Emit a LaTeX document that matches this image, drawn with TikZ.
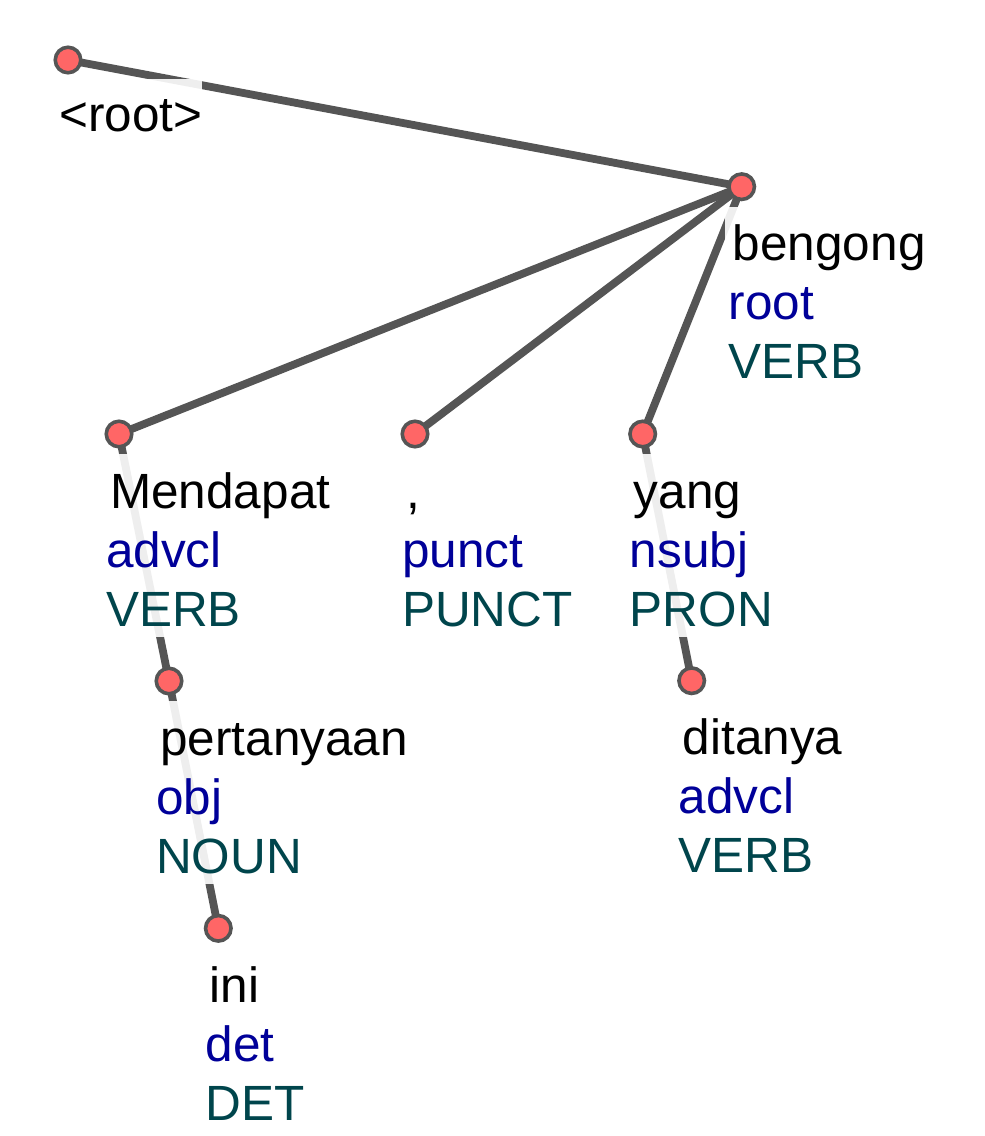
\documentclass[tikz,border=0pt]{standalone}
\usepackage{fontspec}
\setmainfont{Liberation Sans}
\definecolor{edgegray}{HTML}{555555}
\definecolor{nodered}{HTML}{FF6666}
\definecolor{relcol}{HTML}{000099}
\definecolor{poscol}{HTML}{00454C}
\pgfdeclarelayer{bg}
\pgfsetlayers{bg,main}
\tikzset{
  lbl/.style={anchor=north west, inner sep=0pt, align=left, fill=white,
    fill opacity=0.9, text opacity=1, font=\fontsize{49.5}{59}\selectfont},
  tok/.style={circle, draw=edgegray, line width=3.6pt, fill=nodered,
    minimum size=25.5pt, inner sep=0pt},
  depedge/.style={draw=edgegray, line width=7.8pt},
}
\newcommand\deptok[6]{%
  \node[lbl] (#1-l) at (#2-17,#3+20)
    {\hspace*{8pt}\rule{0pt}{54pt}#4\\
     \hspace*{4pt}\textcolor{relcol}{#5}\\
     \hspace*{4pt}\textcolor{poscol}{#6}\rule[-11pt]{0pt}{11pt}};
  \node[tok] (#1) at (#2,#3) {};}
\begin{document}
\begin{tikzpicture}[x=1pt,y=-1pt]
\useasboundingbox (0,0) rectangle (985,1136);
% root label and node
\node[lbl] (root-l) at (68-17,60+19)
  {\hspace*{8pt}\rule{0pt}{52pt}<root>\rule[-12pt]{0pt}{12pt}};
\node[tok] (root) at (68,60) {};
\deptok{beng}{741.7}{186.7}{bengong}{root}{VERB}
\deptok{mend}{119}{434}{Mendapat}{advcl}{VERB}
\deptok{comma}{415}{434}{,}{punct}{PUNCT}
\deptok{yang}{642.7}{434}{yang}{nsubj}{PRON}
\deptok{pert}{169}{681}{pertanyaan}{obj}{NOUN}
\deptok{dita}{691.7}{680.7}{ditanya}{advcl}{VERB}
\deptok{ini}{218.3}{928.3}{ini}{det}{DET}
\begin{pgfonlayer}{bg}
\draw[depedge] (root.center) -- (beng.center);
\draw[depedge] (beng.center) -- (mend.center);
\draw[depedge] (beng.center) -- (comma.center);
\draw[depedge] (beng.center) -- (yang.center);
\draw[depedge] (mend.center) -- (pert.center);
\draw[depedge] (pert.center) -- (ini.center);
\draw[depedge] (yang.center) -- (dita.center);
\end{pgfonlayer}
\end{tikzpicture}
\end{document}
